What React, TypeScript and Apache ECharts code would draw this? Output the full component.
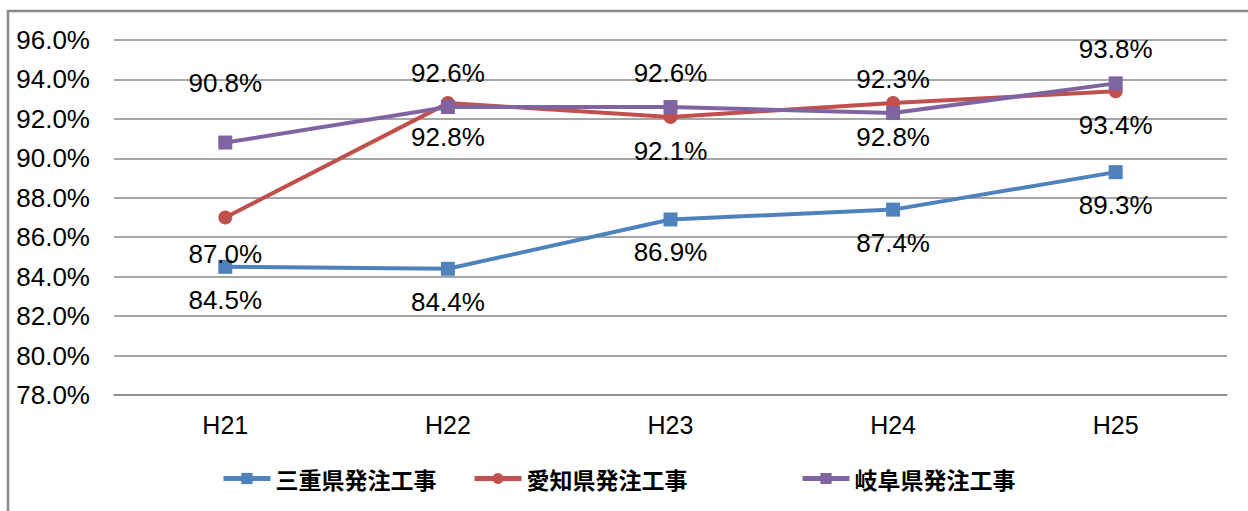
import React, { useEffect, useRef } from "react";
import * as echarts from "echarts";

const categories = ["H21", "H22", "H23", "H24", "H25"];
const mie = [84.5, 84.4, 86.9, 87.4, 89.3];
const aichi = [87.0, 92.8, 92.1, 92.8, 93.4];
const gifu = [90.8, 92.6, 92.6, 92.3, 93.8];
const seriesNames = ["三重県発注工事", "愛知県発注工事", "岐阜県発注工事"];
const colors = ["#4F81BD", "#C0504D", "#8064A2"];

const fmt = (p: any) => `${Number(p.value).toFixed(1)}%`;

export default function App() {
  const ref = useRef<HTMLDivElement>(null);
  useEffect(() => {
    const chart = echarts.init(ref.current!, null, { renderer: "svg" });
    const labelBase = {
      show: true,
      fontSize: 26,
      color: "#000",
      fontFamily: "Liberation Sans, Arial, sans-serif",
      formatter: fmt,
    };
    const legendText = {
      fontSize: 23,
      fontWeight: "bold" as const,
      color: "#000",
      fontFamily: "Noto Sans CJK JP",
    };
    const mkLegend = (name: string, left: number) => ({
      data: [name],
      left,
      top: 467,
      padding: 0,
      itemWidth: 47,
      itemHeight: 14,
      itemGap: 5,
      lineStyle: { width: 5 },
      textStyle: legendText,
    });
    chart.setOption({
      animation: false,
      backgroundColor: "#fff",
      graphic: [
        {
          type: "rect",
          shape: { x: 8, y: 11, width: 1260, height: 520 },
          style: { fill: "none", stroke: "#898989", lineWidth: 2.5 },
          z: 100,
        },
      ],
      legend: [
        mkLegend(seriesNames[0], 221),
        mkLegend(seriesNames[1], 472),
        mkLegend(seriesNames[2], 800),
      ],
      grid: { left: 114, right: 21, top: 40, bottom: 116 },
      xAxis: {
        type: "category",
        data: categories,
        boundaryGap: true,
        axisLine: { show: true, lineStyle: { color: "#888", width: 1.5 } },
        axisTick: { show: false },
        axisLabel: {
          fontSize: 25,
          color: "#000",
          margin: 17,
          fontFamily: "Liberation Sans, Arial, sans-serif",
        },
      },
      yAxis: {
        type: "value",
        min: 78,
        max: 96,
        interval: 2,
        axisLine: { show: false },
        axisTick: { show: false },
        splitLine: { lineStyle: { color: "#888", width: 1.5 } },
        axisLabel: {
          fontSize: 26,
          color: "#000",
          margin: 24,
          fontFamily: "Liberation Sans, Arial, sans-serif",
          formatter: (v: number) => `${v.toFixed(1)}%`,
        },
      },
      series: [
        {
          name: seriesNames[0],
          type: "line",
          data: mie,
          color: colors[0],
          symbol: "rect",
          symbolSize: 14,
          lineStyle: { width: 4 },
          label: { ...labelBase, position: "bottom", distance: 13 },
        },
        {
          name: seriesNames[1],
          type: "line",
          data: aichi.map((v, i) =>
            i === 0 ? { value: v, label: { distance: 16 } } : v
          ),
          color: colors[1],
          symbol: "circle",
          symbolSize: 14,
          lineStyle: { width: 4 },
          label: { ...labelBase, position: "bottom", distance: 14 },
        },
        {
          name: seriesNames[2],
          type: "line",
          data: gifu.map((v, i) =>
            i === 0 ? { value: v, label: { distance: 40 } } : v
          ),
          color: colors[2],
          symbol: "rect",
          symbolSize: 14,
          lineStyle: { width: 4 },
          label: { ...labelBase, position: "top", distance: 14 },
        },
      ],
    });
    return () => chart.dispose();
  }, []);
  return (
    <div
      ref={ref}
      style={{ position: "fixed", left: 0, top: 0, width: 1248, height: 511 }}
    />
  );
}
